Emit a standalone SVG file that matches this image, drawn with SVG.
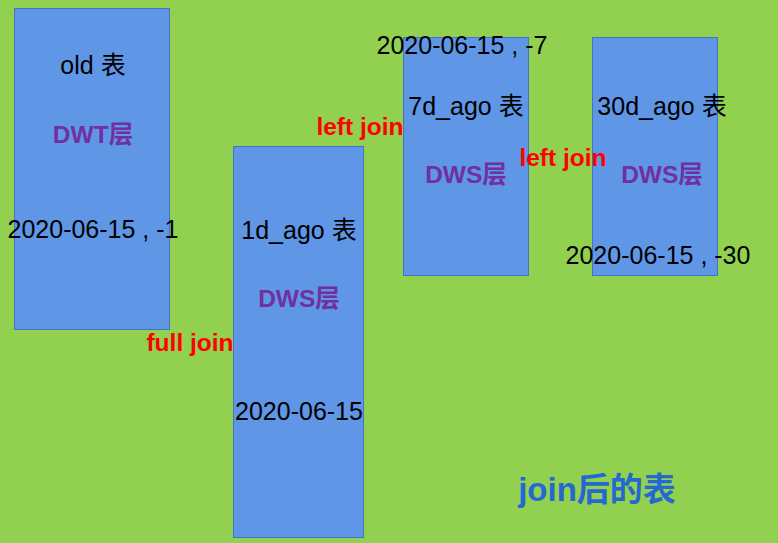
<svg xmlns="http://www.w3.org/2000/svg" width="778" height="543" viewBox="0 0 778 543">
<style>
.box{fill:#5F96E6;stroke:#4472C4;stroke-width:1}
.t{font-family:"Liberation Sans","Noto Sans CJK SC",sans-serif;font-size:25px;fill:#000;text-anchor:middle}
.layer{font-family:"Liberation Sans","Noto Sans CJK SC",sans-serif;font-size:24.5px;font-weight:bold;fill:#7030A0;text-anchor:middle}
.join{font-family:"Liberation Sans","Noto Sans CJK SC",sans-serif;font-size:24.5px;font-weight:bold;fill:#FF0000;text-anchor:middle}
.res{font-family:"Liberation Sans","Noto Sans CJK SC",sans-serif;font-size:33px;font-weight:bold;fill:#2468D2;text-anchor:middle}
</style>
<rect x="0" y="0" width="778" height="543" fill="#92D050"/>
<g id="old">
<rect class="box" x="14.5" y="8.5" width="155" height="321"/>
<text class="t" x="93" y="74">old 表</text>
<text class="layer" x="93" y="143">DWT层</text>
<text class="t" x="93" y="238">2020-06-15 , -1</text>
</g>
<g id="d1">
<rect class="box" x="233.5" y="146.5" width="130" height="391"/>
<text class="t" x="299" y="239">1d_ago 表</text>
<text class="layer" x="299" y="307">DWS层</text>
<text class="t" x="299" y="420">2020-06-15</text>
</g>
<g id="d7">
<rect class="box" x="403.5" y="37.5" width="125" height="238"/>
<text class="t" x="462" y="54">2020-06-15 , -7</text>
<text class="t" x="466" y="115">7d_ago 表</text>
<text class="layer" x="466" y="183">DWS层</text>
</g>
<g id="d30">
<rect class="box" x="592.5" y="37.5" width="125" height="238"/>
<text class="t" x="662" y="115">30d_ago 表</text>
<text class="layer" x="662" y="183">DWS层</text>
<text class="t" x="658" y="264">2020-06-15 , -30</text>
</g>
<g id="connectors">
<text class="join" x="190" y="351">full join</text>
<text class="join" x="360" y="135">left join</text>
<text class="join" x="563" y="166">left join</text>
</g>
<g id="result">
<text class="res" x="597" y="501">join后的表</text>
</g>
</svg>
